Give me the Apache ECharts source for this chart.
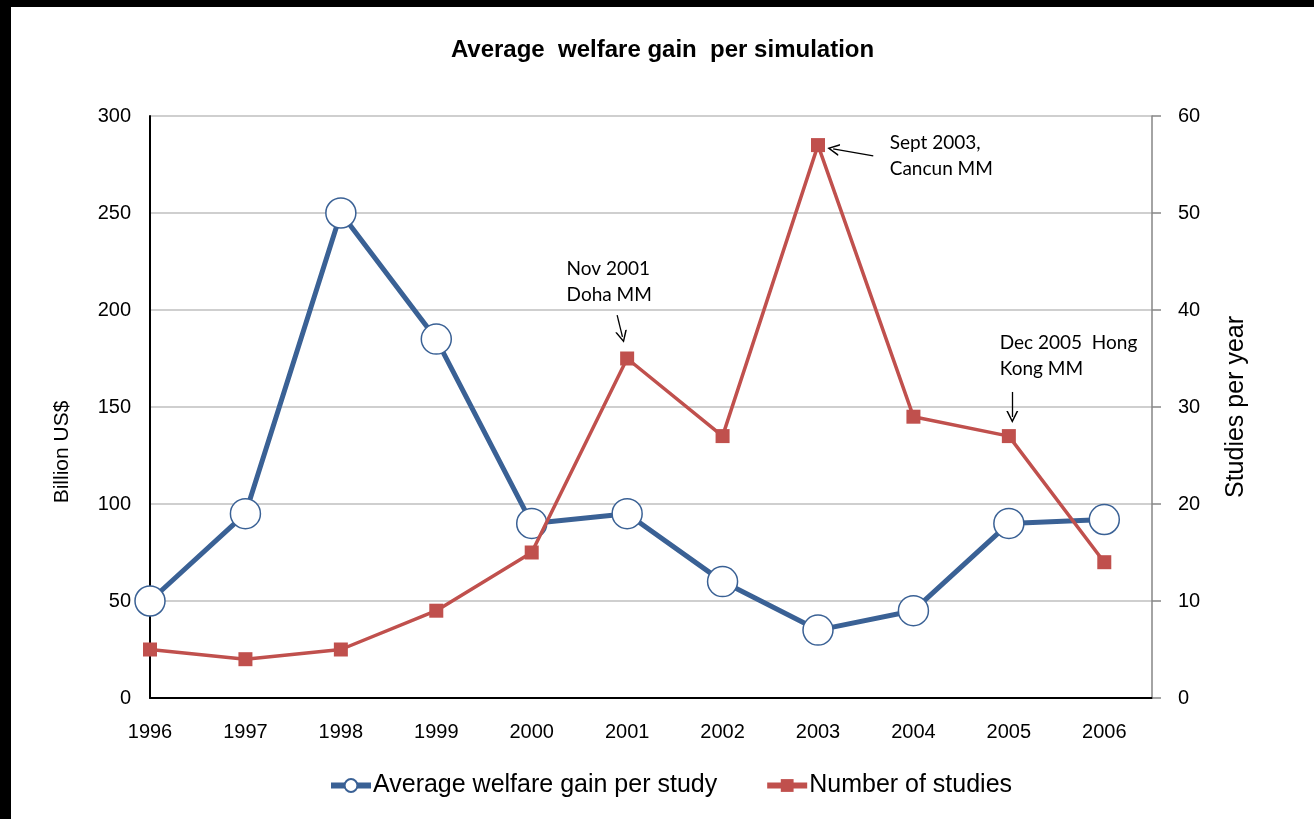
<!DOCTYPE html>
<html>
<head>
<meta charset="utf-8">
<script src="https://cdn.jsdelivr.net/npm/echarts@6/dist/echarts.min.js"></script>
<style>
  html, body { margin: 0; padding: 0; background: #000; width: 1314px; height: 819px; overflow: hidden; }
  #chart { position: absolute; left: 11px; top: 7px; width: 1303px; height: 812px; background: #fff; }
</style>
</head>
<body>
<div id="chart"></div>
<script>
// ---- data ----
const years = [1996, 1997, 1998, 1999, 2000, 2001, 2002, 2003, 2004, 2005, 2006];
const welfareGain = [50, 95, 250, 185, 90, 95, 60, 35, 45, 90, 92];
const numStudies = [5, 4, 5, 9, 15, 35, 27, 57, 29, 27, 14];
const leftTicks = [0, 50, 100, 150, 200, 250, 300];
const rightTicks = [0, 10, 20, 30, 40, 50, 60];
const annotations = [
  { text: 'Sept 2003,\nCancun MM', at: [2003.757, 58.56], from: [2003.579, 55.88], to: [2003.159, 56.60] },
  { text: 'Nov 2001\nDoha MM', at: [2000.371, 45.52], from: [2000.895, 39.48], to: [2000.951, 37.22] },
  { text: 'Dec 2005  Hong\nKong MM', at: [2004.910, 37.89], from: [2005.036, 31.55], to: [2005.036, 28.97] }
];

const blue = '#3A6195';
const red = '#C0504D';
const openArrow = 'path://M0,10 L5,0 L10,10 L8.6,10 L5,2.6 L1.4,10 Z';

const chart = echarts.init(document.getElementById('chart'));
chart.setOption({
  animation: false,
  backgroundColor: '#fff',
  title: {
    text: 'Average  welfare gain  per simulation',
    left: 'center',
    top: 26,
    textStyle: { fontFamily: 'Liberation Sans', fontSize: 24, fontWeight: 'bold', color: '#000' }
  },
  legend: {
    left: 312,
    top: 761,
    itemGap: 47,
    itemWidth: 40,
    itemHeight: 16,
    textStyle: { fontFamily: 'Liberation Sans', fontSize: 25, color: '#000', padding: [0, 0, 0, -3] },
    data: [
      { name: 'Average welfare gain per study', lineStyle: { width: 6 } },
      { name: 'Number of studies', lineStyle: { width: 6 } }
    ]
  },
  grid: { left: 139, right: 162, top: 109, bottom: 121 },
  xAxis: {
    type: 'value',
    min: years[0],
    max: years[years.length - 1] + 0.5,
    interval: 1,
    axisLine: { show: true, onZero: false, lineStyle: { color: '#000', width: 2 } },
    axisTick: { show: false },
    splitLine: { show: false },
    axisLabel: {
      margin: 24,
      fontFamily: 'Liberation Sans', fontSize: 20, color: '#000',
      formatter: v => (Number.isInteger(v) && years.indexOf(v) >= 0) ? String(v) : ''
    }
  },
  yAxis: [
    {
      type: 'value',
      min: leftTicks[0], max: leftTicks[leftTicks.length - 1], interval: 50,
      name: 'Billion US$',
      nameLocation: 'middle',
      nameGap: 77,
      nameRotate: 90,
      nameTextStyle: { fontFamily: 'Liberation Sans', fontSize: 21, color: '#000', padding: [0, 90, 0, 0] },
      axisLine: { show: true, lineStyle: { color: '#000', width: 2 } },
      axisTick: { show: false },
      splitLine: { show: true, lineStyle: { color: '#BFBFBF', width: 1.5 } },
      axisLabel: { margin: 19, fontFamily: 'Liberation Sans', fontSize: 20, color: '#000' }
    },
    {
      type: 'value',
      min: rightTicks[0], max: rightTicks[rightTicks.length - 1], interval: 10,
      position: 'right',
      name: 'Studies per year',
      nameLocation: 'middle',
      nameGap: 72,
      nameRotate: 90,
      nameTextStyle: { fontFamily: 'Liberation Sans', fontSize: 25, color: '#000' },
      axisLine: { show: true, lineStyle: { color: '#868686', width: 1.5 } },
      axisTick: { show: true, inside: false, length: 9, lineStyle: { color: '#868686', width: 1.5 } },
      splitLine: { show: false },
      axisLabel: { margin: 26, fontFamily: 'Liberation Sans', fontSize: 20, color: '#000' }
    }
  ],
  series: [
    {
      name: 'Average welfare gain per study',
      type: 'line',
      yAxisIndex: 0,
      data: years.map((y, i) => [y, welfareGain[i]]),
      symbol: 'circle',
      symbolSize: 30,
      lineStyle: { color: blue, width: 5 },
      itemStyle: { color: '#fff', borderColor: blue, borderWidth: 1.5 },
      emphasis: { disabled: true },
      z: 2
    },
    {
      name: 'Number of studies',
      type: 'line',
      yAxisIndex: 1,
      data: years.map((y, i) => [y, numStudies[i]]),
      symbol: 'rect',
      symbolSize: 14,
      lineStyle: { color: red, width: 3.5 },
      itemStyle: { color: red },
      emphasis: { disabled: true },
      z: 3,
      markLine: {
        silent: true,
        symbol: ['none', openArrow],
        symbolSize: [12, 12],
        lineStyle: { color: '#000', width: 1.3, type: 'solid' },
        label: { show: false },
        data: annotations.map(a => [{ coord: a.from }, { coord: a.to }])
      },
      markPoint: {
        silent: true,
        symbol: 'rect',
        symbolSize: 1,
        itemStyle: { color: 'rgba(0,0,0,0)' },
        label: {
          show: true,
          position: [0, 0],
          align: 'left',
          verticalAlign: 'top',
          fontFamily: 'Lato',
          fontSize: 19,
          lineHeight: 26,
          color: '#000',
          formatter: p => p.data.txt
        },
        data: annotations.map(a => ({ coord: a.at, txt: a.text }))
      }
    }
  ]
});
</script>
</body>
</html>
